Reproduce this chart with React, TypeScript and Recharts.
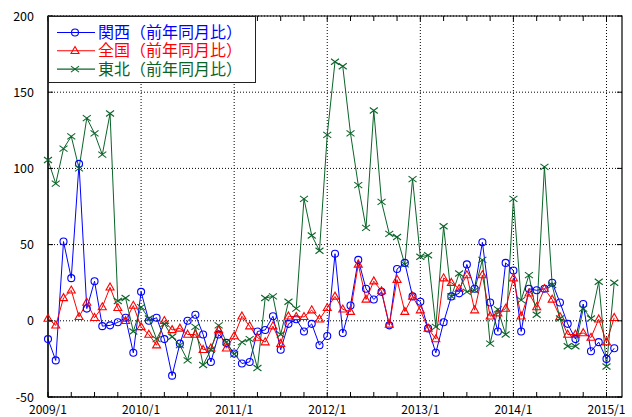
import React from 'react';
import {
    LineChart,
    Line,
    XAxis,
    YAxis,
    CartesianGrid,
    ReferenceLine,
    ReferenceArea,
    Legend
} from 'recharts';

// monthly values, 2009/1 .. 2015/2
const kansai = [
    -12, -26, 52, 28, 103, 8, 26, -3.5, -3, -1, 2, -21,
    19, 0, 2, -12, -36, -15, 0, 4, -9, -27, -9, -14.5,
    -21.5, -28, -27, -7, -6, 3, -19, -2, 1, -7, -2, -16,
    -10, 44, -8, 10, 40, 21, 14, 19, -3, 34, 38, 16,
    12.5, -5, -21, -1, 16, 18, 37, 21, 51.5, 12, -7, 38,
    33, -7, 21, 20, 21, 25, 12, -2, -12, 11, -20, -14, -25, -18
];
const zenkoku = [
    1.5, -3, 15, 20, 2.6, 12, 2, 9, 22, 8.5, 0, 10,
    -4, -9, -16, 0, -6, -5, -9, -9, -19, -18, -6, -18,
    -10, 3, -3.5, -11, -14, -3.5, -15, 3, 2.6, 2.6, 7, 1,
    8.5, 16, 7.5, 6, 37, 14, 26, 19.5, -2.4, 27, 6, 16,
    7, -5, -12, 28, 25, 21, 30, 7, 30, 3, 5, 8,
    28, 3, 18, 9, 21, 14, 2.6, -9, -9, -8, -11, 1, -14, 2
];
const tohoku = [
    105.5, 90, 113, 121, 100, 133, 123, 109, 136, 13, 15, -7,
    9, 1.5, -12, -2, -10.5, -16, -26, -4, -29, -19, -3, -14,
    -22, -14, -12, -31, 15, 16, -9, 12.5, 8, 80, 56, 46,
    122, 170, 167, 123, 89, 61, 138, 78, 57, 55, 37, 93,
    42, 43, -4, 62, 16, 31, 19, 20, 40, -15, 7.5, -9,
    80, 13.6, 30, 4, 101, 23.5, 1.5, -16.7, -16.7, 8, 1.5, 25.6, -30, 25
];

const monthTicks = [0, 3, 6, 9, 12, 15, 18, 21, 24, 27, 30, 33, 36, 39, 42, 45, 48, 51, 54, 57, 60, 63, 66, 69, 72];
const yearTicks = [12, 24, 36, 48, 60, 72];
const yearLabels = ['2009/1', '2010/1', '2011/1', '2012/1', '2013/1', '2014/1', '2015/1'];
const valueTicks = [-50, 0, 50, 100, 150, 200];
const seriesNames = ['関西（前年同月比）', '全国（前年同月比）', '東北（前年同月比）'];

const data = kansai.map((v, i) => ({ m: i, kansai: v, zenkoku: zenkoku[i], tohoku: tohoku[i] }));

const BLUE = '#0000ff';
const RED = '#ff0000';
const GREEN = '#0a6428';
const FONT = "'Noto Sans CJK JP', 'DejaVu Sans', sans-serif";

// plot box in chart pixels
const PLOT = { left: 48, right: 622, top: 16, bottom: 397 };

const circle = (cx: number, cy: number, color: string, key?: any) => (
    <circle key={key} cx={cx} cy={cy} r={3.5} fill="none" stroke={color} strokeWidth={1.1} />
);
const triangle = (cx: number, cy: number, color: string, key?: any) => (
    <path key={key} d={`M${cx},${cy - 4.3}L${cx + 4},${cy + 2.7}L${cx - 4},${cy + 2.7}Z`} fill="none" stroke={color} strokeWidth={1.1} />
);
const cross = (cx: number, cy: number, color: string, key?: any) => (
    <path key={key} d={`M${cx - 4},${cy - 3}L${cx + 4},${cy + 3}M${cx - 4},${cy + 3}L${cx + 4},${cy - 3}`} fill="none" stroke={color} strokeWidth={1.1} />
);

const markers = [
    { color: BLUE, draw: circle },
    { color: RED, draw: triangle },
    { color: GREEN, draw: cross }
];

const XTick = (props: any) => {
    const { x, payload } = props;
    const v = payload.value;
    const label = v % 12 === 0 ? yearLabels[v / 12] : null;
    return (
        <g>
            <line x1={x} x2={x} y1={PLOT.bottom} y2={PLOT.bottom - 5} stroke="#000" />
            <line x1={x} x2={x} y1={PLOT.top} y2={PLOT.top + 5} stroke="#000" />
            {label && (
                <text x={x} y={413.5} textAnchor="middle" fontSize={12} fontFamily={FONT} fill="#000">
                    {label}
                </text>
            )}
        </g>
    );
};

const YTick = (props: any) => {
    const { y, payload } = props;
    return (
        <g>
            <line x1={PLOT.left} x2={PLOT.left + 5} y1={y} y2={y} stroke="#000" />
            <line x1={PLOT.right} x2={PLOT.right - 5} y1={y} y2={y} stroke="#000" />
            <text x={34} y={y + 4.5} textAnchor="end" fontSize={12.5} fontFamily={FONT} fill="#000">
                {payload.value}
            </text>
        </g>
    );
};

const LegendBox = () => (
    <div style={{ width: 208, height: 67, background: '#fff', border: '1px solid #222', boxSizing: 'border-box' }}>
        <svg width={206} height={65} style={{ display: 'block' }}>
            {seriesNames.map((name, i) => {
                const cy = 15.5 + i * 18.3;
                const mk = markers[i];
                return (
                    <g key={name}>
                        <line x1={8} x2={46} y1={cy} y2={cy} stroke={mk.color} strokeWidth={1.1} />
                        {mk.draw(26, cy, mk.color)}
                        <text x={49} y={cy + 5.5} fontSize={16} fontFamily={FONT} fill={mk.color}>
                            {name}
                        </text>
                    </g>
                );
            })}
        </svg>
    </div>
);

export default function App() {
    return (
        <div style={{ position: 'absolute', left: 0, top: 0, background: '#fff' }}>
            <LineChart
                width={632}
                height={417}
                data={data}
                margin={{ top: 16, right: 10, bottom: 0, left: 0 }}
            >
                <CartesianGrid vertical={false} stroke="#000" strokeDasharray="1 2" />
                {yearTicks.map((t) => (
                    <ReferenceLine key={t} x={t} stroke="#000" strokeDasharray="1 2" />
                ))}
                <XAxis
                    dataKey="m"
                    type="number"
                    domain={[0, 74]}
                    ticks={monthTicks}
                    interval={0}
                    height={20}
                    tickLine={false}
                    axisLine={{ stroke: '#000' }}
                    tick={<XTick />}
                />
                <YAxis
                    type="number"
                    domain={[-50, 200]}
                    ticks={valueTicks}
                    interval={0}
                    width={48}
                    tickLine={false}
                    axisLine={{ stroke: '#000' }}
                    tick={<YTick />}
                />
                <ReferenceArea x1={0} x2={74} y1={-50} y2={200} fill="none" stroke="#000" strokeWidth={1.2} />
                <Line
                    type="linear"
                    dataKey="kansai"
                    stroke={BLUE}
                    strokeWidth={1}
                    isAnimationActive={false}
                    dot={(p: any) => circle(p.cx, p.cy, BLUE, `k${p.index}`)}
                />
                <Line
                    type="linear"
                    dataKey="zenkoku"
                    stroke={RED}
                    strokeWidth={1}
                    isAnimationActive={false}
                    dot={(p: any) => triangle(p.cx, p.cy, RED, `z${p.index}`)}
                />
                <Line
                    type="linear"
                    dataKey="tohoku"
                    stroke={GREEN}
                    strokeWidth={1}
                    isAnimationActive={false}
                    dot={(p: any) => cross(p.cx, p.cy, GREEN, `t${p.index}`)}
                />
                <Legend
                    layout="horizontal"
                    verticalAlign="middle"
                    align="center"
                    content={<LegendBox />}
                    wrapperStyle={{ top: 16, left: 48, width: 208, height: 67 }}
                />
            </LineChart>
        </div>
    );
}
